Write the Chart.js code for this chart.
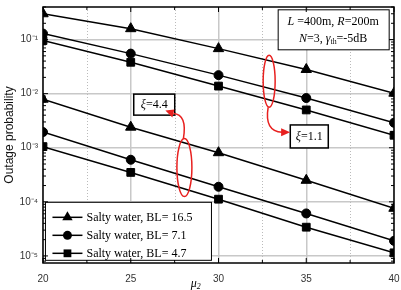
<!DOCTYPE html>
<html>
<head>
<meta charset="utf-8">
<script src="https://cdn.jsdelivr.net/npm/chart.js@4/dist/chart.umd.min.js"></script>
<style>
  html, body { margin: 0; padding: 0; background: #fff; }
  #wrap { width: 401px; height: 290px; }
</style>
</head>
<body>
<div id="wrap"><canvas id="chart" width="401" height="290"></canvas></div>
<script>
// x values (mu_2)
const mu2 = [20, 25, 30, 35, 40];

// xi = 1.1 (upper group)
const bl165Xi11 = [0.30, 0.159, 0.068, 0.028, 0.0102];
const bl71Xi11 = [0.129, 0.055, 0.022, 0.0083, 0.0029];
const bl47Xi11 = [0.096, 0.038, 0.0138, 0.005, 0.0017];

// xi = 4.4 (lower group)
const bl165Xi44 = [0.0079, 0.0024, 0.00081, 0.00025, 0.000076];
const bl71Xi44 = [0.00195, 0.0006, 0.00019, 0.000061, 0.000019];
const bl47Xi44 = [0.00105, 0.00035, 0.000112, 0.000034, 0.0000114];

const legendLabels = ['Salty water, BL= 16.5', 'Salty water, BL= 7.1', 'Salty water, BL= 4.7'];

const xTicks = [20, 22.5, 25, 27.5, 30, 32.5, 35, 37.5, 40];
const xTickLabels = ['20', '', '25', '', '30', '', '35', '', '40'];
const yTicks = [1e-5, 1e-4, 1e-3, 1e-2, 1e-1];
const yTickLabels = ['10⁻⁵', '10⁻⁴', '10⁻³', '10⁻²', '10⁻¹'];

const markers = [
  { style: 'triangle', r: 6 },
  { style: 'circle', r: 4.5 },
  { style: 'rect', r: 5.5 }
];

function makeSet(label, data, k) {
  return {
    label,
    data: data.map((v, i) => ({ x: mu2[i], y: v })),
    borderColor: '#000',
    backgroundColor: '#000',
    borderWidth: 1.5,
    pointStyle: markers[k].style,
    pointRadius: markers[k].r,
    pointBorderWidth: 1,
    pointBackgroundColor: '#000',
    pointBorderColor: '#000',
    fill: false,
    tension: 0,
    clip: 0
  };
}

const serif = '"Liberation Serif", "Times New Roman", serif';

function richText(ctx, parts, x, y, size) {
  // parts: [text, italic, sub]
  let w = 0;
  parts.forEach(p => {
    const s = p[2] ? size * 0.65 : size;
    ctx.font = (p[1] ? 'italic ' : '') + s + 'px ' + serif;
    w += ctx.measureText(p[0]).width;
  });
  let cx = x - w / 2;
  ctx.textAlign = 'left';
  ctx.textBaseline = 'middle';
  parts.forEach(p => {
    const s = p[2] ? size * 0.65 : size;
    ctx.font = (p[1] ? 'italic ' : '') + s + 'px ' + serif;
    ctx.fillText(p[0], cx, p[2] ? y + 3 : y);
    cx += ctx.measureText(p[0]).width;
  });
}

function marker(ctx, style, x, y, r) {
  ctx.beginPath();
  if (style === 'triangle') {
    for (let i = 0; i < 3; i++) {
      const a = i * 2 * Math.PI / 3;
      ctx.lineTo(x + Math.sin(a) * r, y - Math.cos(a) * r);
    }
    ctx.closePath();
  } else if (style === 'circle') {
    ctx.arc(x, y, r, 0, Math.PI * 2);
  } else {
    const s = r * Math.SQRT1_2;
    ctx.rect(x - s, y - s, 2 * s, 2 * s);
  }
  ctx.fill();
}

function box(ctx, x, y, w, h, lw) {
  ctx.fillStyle = '#fff';
  ctx.fillRect(x, y, w, h);
  ctx.strokeStyle = '#000';
  ctx.lineWidth = lw;
  ctx.strokeRect(x, y, w, h);
  ctx.fillStyle = '#000';
}

// dotted minor grid, then clip the series to the plot frame
const minorGrid = {
  id: 'minorGrid',
  beforeDatasetsDraw(chart) {
    const { ctx, chartArea: a, scales: { x } } = chart;
    ctx.save();
    ctx.strokeStyle = '#bbb';
    ctx.lineWidth = 1;
    ctx.setLineDash([1, 2]);
    xTicks.forEach((v, i) => {
      if (xTickLabels[i]) return;
      const px = Math.round(x.getPixelForValue(v)) + 0.5;
      ctx.beginPath();
      ctx.moveTo(px, a.top);
      ctx.lineTo(px, a.bottom);
      ctx.stroke();
    });
    ctx.restore();
    ctx.save();
    ctx.beginPath();
    ctx.rect(a.left, a.top, a.right - a.left, a.bottom - a.top);
    ctx.clip();
  },
  afterDatasetsDraw(chart) {
    chart.ctx.restore();
  }
};

const decorations = {
  id: 'decorations',
  afterDraw(chart) {
    const { ctx, chartArea: a, scales: { x, y } } = chart;
    ctx.save();

    // legend
    const lx = x.getPixelForValue(20.14), ly = y.getPixelForValue(9.8e-5);
    box(ctx, lx, ly, 166, 58, 1);
    legendLabels.forEach((t, i) => {
      const ry = ly + 15 + i * 18;
      ctx.strokeStyle = '#000';
      ctx.lineWidth = 1.5;
      ctx.beginPath();
      ctx.moveTo(lx + 7, ry);
      ctx.lineTo(lx + 37, ry);
      ctx.stroke();
      marker(ctx, markers[i].style, lx + 22, ry, markers[i].r);
      ctx.font = '12px ' + serif;
      ctx.textAlign = 'left';
      ctx.textBaseline = 'middle';
      ctx.fillText(t, lx + 41, ry + 1);
    });

    // parameter box
    const px = x.getPixelForValue(33.4), py = y.getPixelForValue(0.355);
    box(ctx, px, py, 111, 40, 1);
    richText(ctx, [['L', 1], [' =400m, '], ['R', 1], ['=200m']], px + 55, py + 12, 12);
    richText(ctx, [['N', 1], ['=3, '], ['γ', 1], ['th', 0, 1], ['=-5dB']], px + 55, py + 29, 12);

    // xi boxes
    const b1x = x.getPixelForValue(25.17), b1y = y.getPixelForValue(0.0098);
    box(ctx, b1x, b1y, 41, 21, 1.5);
    richText(ctx, [['ξ', 1], ['=4.4']], b1x + 20.5, b1y + 11, 12);
    const b2x = x.getPixelForValue(34.09), b2y = y.getPixelForValue(0.00264);
    box(ctx, b2x, b2y, 38, 23, 1.5);
    richText(ctx, [['ξ', 1], ['=1.1']], b2x + 19, b2y + 12, 12);

    // red ellipses and arrows
    ctx.strokeStyle = '#e8201f';
    ctx.fillStyle = '#e8201f';
    ctx.lineWidth = 1.5;
    const e1x = x.getPixelForValue(32.886), e1y = y.getPixelForValue(0.01694);
    ctx.beginPath();
    ctx.ellipse(e1x, e1y, 6, 26, 0, 0, Math.PI * 2);
    ctx.stroke();
    ctx.beginPath();
    ctx.moveTo(e1x - 1, e1y + 26);
    ctx.quadraticCurveTo(e1x - 5, e1y + 50, e1x + 13, e1y + 51);
    ctx.stroke();
    ctx.beginPath();
    ctx.moveTo(e1x + 21, e1y + 51);
    ctx.lineTo(e1x + 12, e1y + 47);
    ctx.lineTo(e1x + 12, e1y + 55);
    ctx.closePath();
    ctx.fill();

    const e2x = x.getPixelForValue(28.057), e2y = y.getPixelForValue(4.3e-4);
    ctx.beginPath();
    ctx.ellipse(e2x, e2y, 7.5, 29, 0, 0, Math.PI * 2);
    ctx.stroke();
    ctx.beginPath();
    ctx.moveTo(e2x - 1, e2y - 29);
    ctx.quadraticCurveTo(e2x + 3, e2y - 53, e2x - 11, e2y - 54);
    ctx.stroke();
    ctx.beginPath();
    ctx.moveTo(e2x - 19, e2y - 57);
    ctx.lineTo(e2x - 10, e2y - 58);
    ctx.lineTo(e2x - 12, e2y - 50);
    ctx.closePath();
    ctx.fill();

    // frame with inward ticks
    ctx.strokeStyle = '#000';
    ctx.fillStyle = '#000';
    ctx.lineWidth = 1.5;
    ctx.strokeRect(a.left, a.top, a.right - a.left, a.bottom - a.top);
    ctx.lineWidth = 1;
    ctx.beginPath();
    xTicks.forEach((v, i) => {
      const tx = x.getPixelForValue(v);
      const len = xTickLabels[i] ? 5 : 3;
      ctx.moveTo(tx, a.bottom); ctx.lineTo(tx, a.bottom - len);
      ctx.moveTo(tx, a.top); ctx.lineTo(tx, a.top + len);
    });
    for (let e = -6; e <= 0; e++) {
      for (let m = 1; m <= 9; m++) {
        const v = m * Math.pow(10, e);
        if (v < y.min || v > y.max) continue;
        const ty = y.getPixelForValue(v);
        const len = m === 1 ? 5 : 3;
        ctx.moveTo(a.left, ty); ctx.lineTo(a.left + len, ty);
        ctx.moveTo(a.right, ty); ctx.lineTo(a.right - len, ty);
      }
    }
    ctx.stroke();

    // x axis title
    richText(ctx, [['μ', 1], ['2', 1, 1]], x.getPixelForValue(28.7), a.bottom + 21, 12);
    ctx.restore();
  }
};

new Chart(document.getElementById('chart'), {
  type: 'line',
  data: {
    datasets: [
      makeSet(legendLabels[0], bl165Xi11, 0),
      makeSet(legendLabels[1], bl71Xi11, 1),
      makeSet(legendLabels[2], bl47Xi11, 2),
      makeSet(legendLabels[0] + ' (xi=4.4)', bl165Xi44, 0),
      makeSet(legendLabels[1] + ' (xi=4.4)', bl71Xi44, 1),
      makeSet(legendLabels[2] + ' (xi=4.4)', bl47Xi44, 2)
    ]
  },
  options: {
    responsive: false,
    devicePixelRatio: 1,
    animation: false,
    layout: { padding: { top: 6, right: 7, left: 0, bottom: 0 } },
    plugins: {
      legend: { display: false },
      tooltip: { enabled: false }
    },
    scales: {
      x: {
        type: 'linear',
        min: 20,
        max: 40,
        afterBuildTicks: s => { s.ticks = xTicks.map(v => ({ value: v })); },
        afterFit: s => { s.height = 27; s.paddingLeft = 0; s.paddingRight = 0; },
        ticks: {
          autoSkip: false,
          maxRotation: 0,
          padding: 10,
          color: '#333',
          font: { family: '"Liberation Sans", Arial, sans-serif', size: 10 },
          callback: v => xTickLabels[xTicks.indexOf(v)] || ''
        },
        grid: {
          drawTicks: false,
          lineWidth: 1.5,
          color: c => (c.tick && xTickLabels[xTicks.indexOf(c.tick.value)]) ? '#c8c8c8' : 'rgba(0,0,0,0)'
        },
        border: { display: false }
      },
      y: {
        type: 'logarithmic',
        min: 7.4e-6,
        max: 0.40,
        afterBuildTicks: s => { s.ticks = yTicks.map(v => ({ value: v })); },
        afterFit: s => { s.width = 43; s.paddingTop = 0; s.paddingBottom = 0; },
        ticks: {
          autoSkip: false,
          padding: 5,
          color: '#333',
          font: { family: '"Liberation Sans", Arial, sans-serif', size: 10 },
          callback: (v, i) => yTickLabels[i]
        },
        grid: {
          drawTicks: false,
          lineWidth: 1.5,
          color: '#c8c8c8'
        },
        border: { display: false },
        title: {
          display: true,
          text: 'Outage probability',
          color: '#111',
          font: { family: '"Liberation Sans", Arial, sans-serif', size: 12 },
          padding: { top: 2, bottom: 0 }
        }
      }
    }
  },
  plugins: [minorGrid, decorations]
});
</script>
</body>
</html>
